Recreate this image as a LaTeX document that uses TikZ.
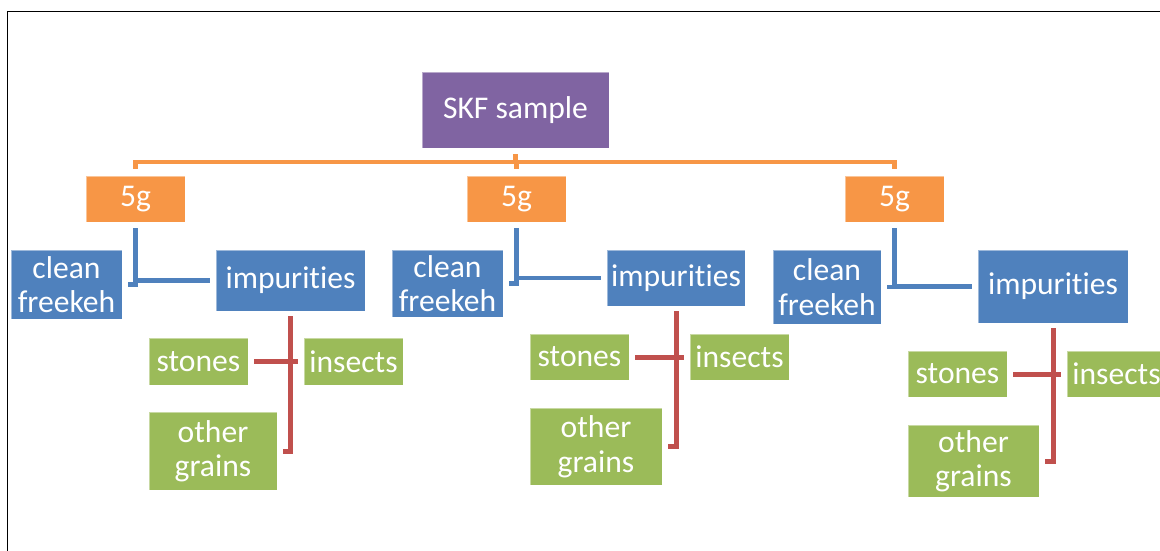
\documentclass[tikz,border=0pt]{standalone}
\usepackage{fontspec}
\setmainfont{Carlito}[Ligatures={NoCommon}]
\definecolor{skfpurple}{HTML}{8064A2}
\definecolor{skforange}{HTML}{F79646}
\definecolor{skfblue}{HTML}{4F81BD}
\definecolor{skfgreen}{HTML}{9BBB59}
\definecolor{skfred}{HTML}{C0504D}
\begin{document}
\begin{tikzpicture}[x=1pt,y=-1pt,
  box/.style={rectangle, inner sep=0pt, outer sep=0pt, text=white,
    font=\fontsize{31.6}{34.5}\selectfont, align=center,
    draw=white, draw opacity=0.45, line width=0.6pt},
  topbox/.style={box, fill=skfpurple},
  gbox/.style={box, fill=skforange, minimum width=99pt, minimum height=46pt},
  bbox/.style={box, fill=skfblue},
  grbox/.style={box, fill=skfgreen},
  oconn/.style={draw=skforange, line width=4.5pt, shorten <=6pt, shorten >=7pt},
  bconn/.style={draw=skfblue, line width=4.5pt, shorten <=6pt, shorten >=6pt},
  rconn/.style={draw=skfred, line width=5pt, shorten <=5pt, shorten >=6pt}
]
\fill[white] (0,0) rectangle (1160,551);
\useasboundingbox (0,0) rectangle (1160,551);
\draw[black, line width=1.5pt] (7.5,551) -- (7.5,11.5) -- (1160,11.5);

% top
\node[topbox, minimum width=187pt, minimum height=76pt] (skf) at (515.5,110) {SKF sample};

% level 1
\node[gbox] (g1) at (135.5,199) {5g};
\node[gbox] (g2) at (516.5,199) {5g};
\node[gbox] (g3) at (894.5,199) {5g};

% level 2
\node[bbox, minimum width=111pt, minimum height=69pt] (cf1) at (66.5,284.5) {clean\\freekeh};
\node[bbox, minimum width=149pt, minimum height=61pt] (imp1) at (290.5,280.5) {impurities};
\node[bbox, minimum width=111pt, minimum height=67pt] (cf2) at (447.5,283.5) {clean\\freekeh};
\node[bbox, minimum width=138pt, minimum height=56pt] (imp2) at (676,278) {impurities};
\node[bbox, minimum width=108pt, minimum height=74pt] (cf3) at (827,287) {clean\\freekeh};
\node[bbox, minimum width=150pt, minimum height=73pt] (imp3) at (1053,286.5) {impurities};

% level 3
\node[grbox, minimum width=99pt, minimum height=47pt] (st1) at (198.5,361.5) {stones};
\node[grbox, minimum width=99pt, minimum height=47pt] (in1) at (353.5,361.5) {insects};
\node[grbox, minimum width=128pt, minimum height=78pt] (og1) at (213,451) {other\\grains};
\node[grbox, minimum width=99pt, minimum height=46pt] (st2) at (579.5,357) {stones};
\node[grbox, minimum width=99pt, minimum height=46pt] (in2) at (739.5,357) {insects};
\node[grbox, minimum width=132pt, minimum height=77pt] (og2) at (596,446.5) {other\\grains};
\node[grbox, minimum width=99pt, minimum height=46pt] (st3) at (957.5,374) {stones};
\node[grbox, minimum width=99pt, minimum height=46pt] (in3) at (1116.5,374) {insects};
\node[grbox, minimum width=131pt, minimum height=72pt] (og3) at (973.5,461) {other\\grains};

% connectors
\draw[oconn] (skf.south) -- ++(0,14) -| (g1.north);
\draw[oconn] (skf.south) -- ++(0,14) -| (g2.north);
\draw[oconn] (skf.south) -- ++(0,14) -| (g3.north);

\draw[bconn] (g1.south) |- (cf1.east);
\draw[bconn] (g1.south) |- (imp1.west);
\draw[bconn] (g2.south) |- (cf2.east);
\draw[bconn] (g2.south) |- (imp2.west);
\draw[bconn] (g3.south) |- (cf3.east);
\draw[bconn] (g3.south) |- (imp3.west);

\draw[rconn] (imp1.south) |- (st1.east);
\draw[rconn] (imp1.south) |- (in1.west);
\draw[rconn] (imp1.south) |- (og1.east);
\draw[rconn] (imp2.south) |- (st2.east);
\draw[rconn] (imp2.south) |- (in2.west);
\draw[rconn] (imp2.south) |- (og2.east);
\draw[rconn] (imp3.south) |- (st3.east);
\draw[rconn] (imp3.south) |- (in3.west);
\draw[rconn] (imp3.south) |- (og3.east);
\end{tikzpicture}
\end{document}
